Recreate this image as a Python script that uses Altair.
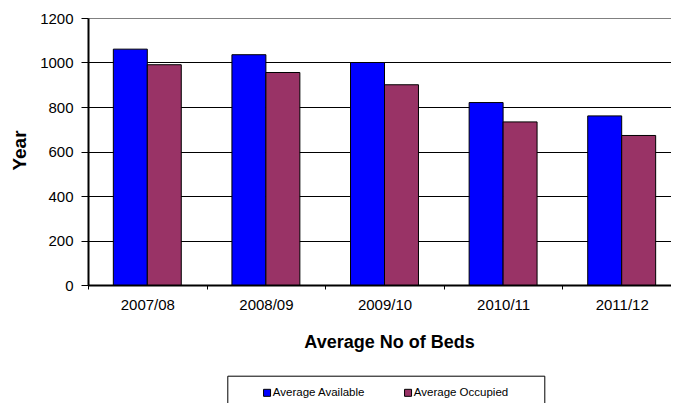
import altair as alt
import pandas as pd

years = ["2007/08", "2008/09", "2009/10", "2010/11", "2011/12"]
available = [1060, 1035, 1000, 820, 760]
occupied = [990, 955, 900, 733, 672]
series = ["Average Available", "Average Occupied"]
colors = ["#0000FF", "#993366"]
y_ticks = [0, 200, 400, 600, 800, 1000, 1200]

rows = []
for yr, a, o in zip(years, available, occupied):
    rows.append({"year": yr, "series": series[0], "value": a})
    rows.append({"year": yr, "series": series[1], "value": o})
df = pd.DataFrame(rows)

FONT = "Liberation Sans"

chart = alt.Chart(df).mark_bar(stroke="black", strokeWidth=1).encode(
    x=alt.X(
        "year:N", sort=years,
        scale=alt.Scale(paddingInner=0, paddingOuter=0, range=[0, 593]),
        axis=alt.Axis(
            title="Average No of Beds", labelAngle=0, tickBand="extent",
            domainColor="black", domainWidth=2, tickColor="black", tickWidth=1,
            tickSize=4, labelPadding=8, labelFont=FONT, labelFontSize=15,
            labelColor="black", titleFont=FONT, titleFontSize=18,
            titleFontWeight="bold", titleColor="black", titleX=301, titleY=62,
            titleBaseline="alphabetic", titleAlign="center", grid=False,
        ),
    ),
    xOffset=alt.XOffset(
        "series:N", sort=series,
        scale=alt.Scale(paddingInner=0, paddingOuter=0.7456),
    ),
    y=alt.Y(
        "value:Q",
        scale=alt.Scale(domain=[0, 1200], nice=False),
        axis=alt.Axis(
            title="Year", values=y_ticks, format="d", grid=True,
            gridColor=alt.condition("datum.value == 1200", alt.value("#808080"), alt.value("black")),
            gridWidth=1, domainColor="black", domainWidth=2, tickColor="black",
            tickWidth=1, tickSize=7, labelPadding=8, labelFont=FONT,
            labelFontSize=15, labelColor="black", titleFont=FONT,
            titleFontSize=19, titleFontWeight="bold", titleColor="black",
            titleAngle=270, titleX=-63, titleY=132, titleBaseline="alphabetic",
            titleAlign="center",
        ),
    ),
    color=alt.Color(
        "series:N", sort=series,
        scale=alt.Scale(domain=series, range=colors),
        legend=alt.Legend(
            orient="none", legendX=139.3, legendY=357.7, direction="horizontal",
            columns=2, title=" ", titleOrient="right", titlePadding=25,
            titleFontSize=11, strokeColor="black", fillColor="white",
            padding=11, symbolType="square", symbolSize=49,
            symbolStrokeColor="black", symbolStrokeWidth=1,
            labelFont=FONT, labelFontSize=11.5, labelColor="black",
            columnPadding=14, symbolOffset=23, labelOffset=0,
        ),
    ),
).properties(
    width=583, height=267,
    autosize=alt.AutoSizeParams(type="none"),
    padding={"left": 80, "top": 10, "right": 0, "bottom": 118},
).configure_view(stroke=None)

chart.save("out.html", embed_options={"renderer": "svg", "actions": False})
